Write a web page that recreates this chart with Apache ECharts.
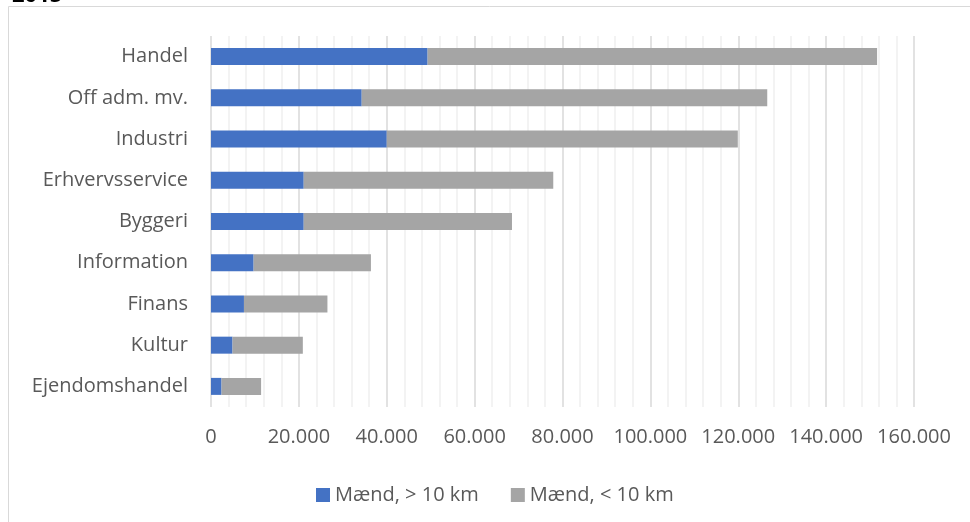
<!DOCTYPE html>
<html>
<head>
<meta charset="utf-8">
<script src="https://cdn.jsdelivr.net/npm/echarts@6/dist/echarts.min.js"></script>
<style>
  html, body { margin: 0; padding: 0; background: #fff; }
  #chart { width: 970px; height: 522px; }
</style>
</head>
<body>
<div id="chart"></div>
<script>
// categories top to bottom
const categories = ['Handel', 'Off adm. mv.', 'Industri', 'Erhvervsservice', 'Byggeri', 'Information', 'Finans', 'Kultur', 'Ejendomshandel']
const over10 = [49300, 34300, 40000, 21100, 21100, 9700, 7500, 4900, 2400]
const under10 = [102300, 92300, 79900, 56800, 47400, 26700, 19000, 16000, 9000]
const seriesNames = ['Mænd, > 10 km', 'Mænd, < 10 km']
const titleText = '2015'

const fontFamily = '"Open Sans", sans-serif'
const fmt = v => String(v).replace(/\B(?=(\d{3})+(?!\d))/g, '.')

const chart = echarts.init(document.getElementById('chart'))

const option = {
  animation: false,
  textStyle: { fontFamily: fontFamily },
  title: {
    text: titleText,
    left: 7,
    top: -20,
    textStyle: { fontSize: 22, fontWeight: 'bold', color: '#000', fontFamily: fontFamily }
  },
  graphic: [{
    type: 'rect',
    shape: { x: 8.5, y: 6.5, width: 980, height: 540 },
    style: { fill: 'none', stroke: '#d9d9d9', lineWidth: 1 },
    silent: true
  }],
  legend: {
    left: 311,
    top: 480,
    itemWidth: 14,
    itemHeight: 14,
    itemGap: 32,
    icon: 'rect',
    textStyle: { fontSize: 20, color: '#595959' },
    data: seriesNames
  },
  grid: { left: 211, right: 56, top: 36, bottom: 115 },
  xAxis: {
    type: 'value',
    min: 0,
    max: 160000,
    interval: 20000,
    axisLine: { show: false },
    axisTick: { show: false },
    axisLabel: { fontSize: 20, color: '#595959', margin: 20, formatter: fmt },
    splitLine: { show: true, lineStyle: { color: '#d9d9d9', width: 1.5 } },
    minorTick: { show: false, splitNumber: 5 },
    minorSplitLine: { show: true, lineStyle: { color: '#efefef', width: 1.5 } }
  },
  yAxis: {
    type: 'category',
    inverse: true,
    data: categories,
    axisLine: { show: false },
    axisTick: { show: false },
    axisLabel: { fontSize: 20, color: '#595959', margin: 23 }
  },
  series: [
    {
      name: seriesNames[0],
      type: 'bar',
      stack: 'total',
      barWidth: 17,
      itemStyle: { color: '#4472c4' },
      data: over10
    },
    {
      name: seriesNames[1],
      type: 'bar',
      stack: 'total',
      barWidth: 17,
      itemStyle: { color: '#a5a5a5' },
      data: under10
    }
  ]
}

chart.setOption(option)
window.addEventListener('resize', chart.resize)
</script>
</body>
</html>
